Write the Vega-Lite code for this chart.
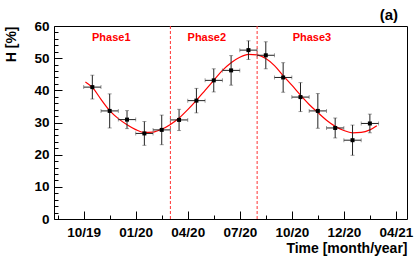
{
  "$schema": "https://vega.github.io/schema/vega-lite/v6.json",
  "autosize": "none",
  "width": 353,
  "height": 193,
  "padding": {"left": 54, "top": 26, "right": 8, "bottom": 40},
  "background": "white",
  "config": {
    "view": {"stroke": "black", "strokeWidth": 1},
    "font": "Liberation Sans"
  },
  "title": {"text": "(a)", "anchor": "end", "frame": "group", "fontSize": 15, "fontWeight": "bold", "font": "Liberation Sans", "color": "black", "offset": 7, "dx": -9, "dy": 11},
  "datasets": {
    "points": [
      {"m": 0.5, "mlo": 0.0, "mhi": 1.0, "h": 41.0, "hlo": 37.3, "hhi": 44.7},
      {"m": 1.5, "mlo": 1.0, "mhi": 2.0, "h": 33.6, "hlo": 28.3, "hhi": 38.9},
      {"m": 2.5, "mlo": 2.0, "mhi": 3.0, "h": 30.9, "hlo": 28.1, "hhi": 33.7},
      {"m": 3.5, "mlo": 3.0, "mhi": 4.0, "h": 26.6, "hlo": 22.9, "hhi": 30.3},
      {"m": 4.5, "mlo": 4.0, "mhi": 5.0, "h": 27.7, "hlo": 23.1, "hhi": 32.3},
      {"m": 5.5, "mlo": 5.0, "mhi": 6.0, "h": 30.8, "hlo": 27.5, "hhi": 34.1},
      {"m": 6.5, "mlo": 6.0, "mhi": 7.0, "h": 36.8, "hlo": 33.0, "hhi": 40.6},
      {"m": 7.5, "mlo": 7.0, "mhi": 8.0, "h": 43.1, "hlo": 39.5, "hhi": 46.7},
      {"m": 8.5, "mlo": 8.0, "mhi": 9.0, "h": 46.2, "hlo": 41.6, "hhi": 50.8},
      {"m": 9.5, "mlo": 9.0, "mhi": 10.0, "h": 52.5, "hlo": 49.6, "hhi": 55.4},
      {"m": 10.5, "mlo": 10.0, "mhi": 11.0, "h": 50.9, "hlo": 46.7, "hhi": 55.1},
      {"m": 11.5, "mlo": 11.0, "mhi": 12.0, "h": 44.0, "hlo": 39.4, "hhi": 48.6},
      {"m": 12.5, "mlo": 12.0, "mhi": 13.0, "h": 37.9, "hlo": 33.4, "hhi": 42.4},
      {"m": 13.5, "mlo": 13.0, "mhi": 14.0, "h": 33.6, "hlo": 28.2, "hhi": 39.0},
      {"m": 14.5, "mlo": 14.0, "mhi": 15.0, "h": 28.3, "hlo": 25.2, "hhi": 31.4},
      {"m": 15.5, "mlo": 15.0, "mhi": 16.0, "h": 24.5, "hlo": 19.8, "hhi": 29.2},
      {"m": 16.5, "mlo": 16.0, "mhi": 17.0, "h": 29.7, "hlo": 26.8, "hhi": 32.6}
    ],
    "fit": [
      {"m": 0.1, "h": 42.6}, {"m": 0.5, "h": 40.9}, {"m": 1.0, "h": 37.2}, {"m": 1.5, "h": 33.7},
      {"m": 2.0, "h": 31.2}, {"m": 2.5, "h": 29.3}, {"m": 3.0, "h": 27.8}, {"m": 3.5, "h": 26.9},
      {"m": 4.0, "h": 27.0}, {"m": 4.5, "h": 27.9}, {"m": 5.0, "h": 29.4}, {"m": 5.5, "h": 31.4},
      {"m": 6.0, "h": 34.0}, {"m": 6.5, "h": 36.9}, {"m": 7.0, "h": 40.0}, {"m": 7.5, "h": 43.1},
      {"m": 8.0, "h": 46.2}, {"m": 8.5, "h": 48.6}, {"m": 9.0, "h": 50.3}, {"m": 9.5, "h": 51.2},
      {"m": 10.0, "h": 51.0}, {"m": 10.5, "h": 49.9}, {"m": 11.0, "h": 47.7}, {"m": 11.5, "h": 44.6},
      {"m": 12.0, "h": 41.6}, {"m": 12.5, "h": 38.5}, {"m": 13.0, "h": 35.6}, {"m": 13.5, "h": 33.1},
      {"m": 14.0, "h": 30.7}, {"m": 14.5, "h": 28.8}, {"m": 15.0, "h": 27.5}, {"m": 15.5, "h": 26.8},
      {"m": 16.0, "h": 26.9}, {"m": 16.5, "h": 27.7}, {"m": 16.9, "h": 29.0}
    ],
    "bounds": [{"m": 5.0}, {"m": 10.0}],
    "phases": [
      {"m": 1.59, "h": 56.4, "label": "Phase1"},
      {"m": 7.1, "h": 56.4, "label": "Phase2"},
      {"m": 13.16, "h": 56.4, "label": "Phase3"}
    ]
  },
  "encoding": {
    "x": {
      "type": "quantitative",
      "scale": {"domain": [-1.71, 18.64], "nice": false, "zero": false},
      "axis": {
        "title": "Time [month/year]",
        "titleAnchor": "end",
        "titleAlign": "right",
        "titleBaseline": "alphabetic",
        "titleY": 33,
        "titleFont": "Liberation Sans",
        "titleFontSize": 14,
        "titleFontWeight": "bold",
        "titleColor": "black",
        "values": [-1.5, 0, 1.5, 3, 4.5, 6, 7.5, 9, 10.5, 12, 13.5, 15, 16.5, 18],
        "labelExpr": "indexof([0,3,6,9,12,15,18], datum.value) >= 0 ? ['10/19','01/20','04/20','07/20','10/20','12/20','04/21'][datum.value/3] : ''",
        "labelFont": "Liberation Sans",
        "labelFontSize": 13.5,
        "labelFontWeight": "bold",
        "labelColor": "black",
        "labelOverlap": false,
        "labelFlush": false,
        "labelPadding": 14,
        "domain": false,
        "grid": false,
        "tickColor": "black",
        "tickSize": {"condition": {"test": "datum.value % 3 === 0", "value": -8}, "value": -4}
      }
    },
    "y": {
      "type": "quantitative",
      "scale": {"domain": [0, 60], "nice": false},
      "axis": {
        "title": "H [%]",
        "titleAnchor": "end",
        "titleFont": "Liberation Sans",
        "titleFontSize": 14,
        "titleFontWeight": "bold",
        "titleColor": "black",
        "titlePadding": 15,
        "values": [0, 2, 4, 6, 8, 10, 12, 14, 16, 18, 20, 22, 24, 26, 28, 30, 32, 34, 36, 38, 40, 42, 44, 46, 48, 50, 52, 54, 56, 58, 60],
        "labelExpr": "datum.value % 10 === 0 ? datum.label : ''",
        "labelFont": "Liberation Sans",
        "labelFontSize": 13.5,
        "labelFontWeight": "bold",
        "labelColor": "black",
        "labelOverlap": false,
        "labelFlush": false,
        "labelPadding": 13,
        "domain": false,
        "grid": false,
        "tickColor": "black",
        "tickSize": {"condition": {"test": "datum.value % 10 === 0", "value": -8}, "value": -4}
      }
    }
  },
  "layer": [
    {
      "data": {"name": "bounds"},
      "mark": {"type": "rule", "color": "#ff3333", "strokeDash": [3, 2], "strokeWidth": 1},
      "encoding": {"x": {"field": "m", "type": "quantitative"}}
    },
    {
      "data": {"name": "phases"},
      "mark": {"type": "text", "color": "#ff0000", "font": "Liberation Sans", "fontSize": 11, "fontWeight": "bold", "align": "center", "baseline": "middle"},
      "encoding": {
        "x": {"field": "m", "type": "quantitative"},
        "y": {"field": "h", "type": "quantitative"},
        "text": {"field": "label"}
      }
    },
    {
      "data": {"name": "fit"},
      "mark": {"type": "line", "color": "#ff0000", "strokeWidth": 1.2, "interpolate": "monotone"},
      "encoding": {
        "x": {"field": "m", "type": "quantitative"},
        "y": {"field": "h", "type": "quantitative"}
      }
    },
    {
      "data": {"name": "points"},
      "mark": {"type": "errorbar", "color": "#222222", "thickness": 1, "ticks": {"size": 4, "color": "#777777"}},
      "encoding": {
        "x": {"field": "mlo", "type": "quantitative"},
        "x2": {"field": "mhi"},
        "y": {"field": "h", "type": "quantitative"}
      }
    },
    {
      "data": {"name": "points"},
      "mark": {"type": "errorbar", "color": "#222222", "thickness": 1, "ticks": {"size": 4, "color": "#777777"}},
      "encoding": {
        "y": {"field": "hlo", "type": "quantitative"},
        "y2": {"field": "hhi"},
        "x": {"field": "m", "type": "quantitative"}
      }
    },
    {
      "data": {"name": "points"},
      "mark": {"type": "square", "color": "black", "filled": true, "opacity": 1, "size": 16},
      "encoding": {
        "x": {"field": "m", "type": "quantitative"},
        "y": {"field": "h", "type": "quantitative"}
      }
    }
  ]
}
